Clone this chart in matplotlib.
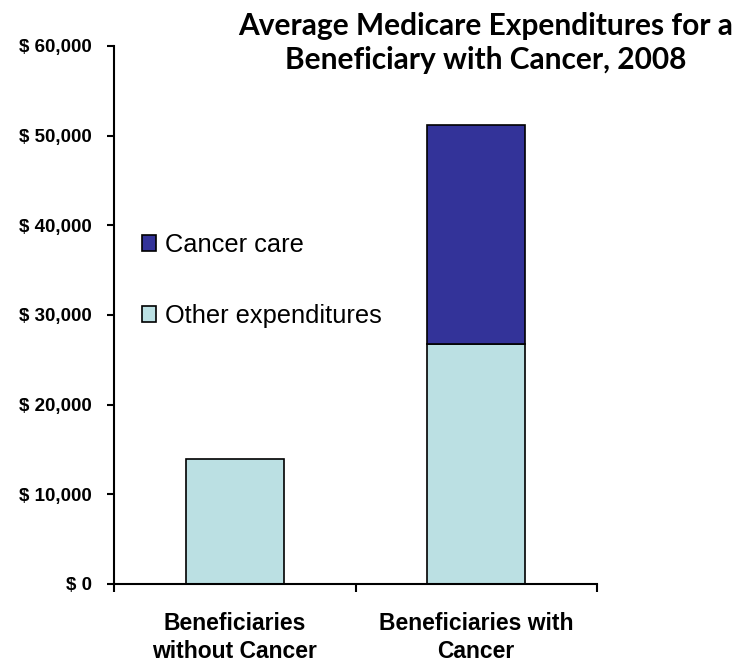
import matplotlib
matplotlib.use("Agg")
import matplotlib.pyplot as plt
from matplotlib.patches import Patch
from matplotlib.ticker import FixedLocator

categories = ["Beneficiaries\nwithout Cancer", "Beneficiaries with\nCancer"]
other_expenditures = [13900, 26800]
cancer_care = [0, 24400]
yticks = [0, 10000, 20000, 30000, 40000, 50000, 60000]
title = "Average Medicare Expenditures for a\nBeneficiary with Cancer, 2008"

col_other = "#BBE0E3"
col_cancer = "#333399"

fig = plt.figure(figsize=(7.45, 6.63), dpi=100)
ax = fig.add_axes([114/745, 1-584/663, (597-114)/745, (584-46)/663])

x = list(range(len(categories)))
bw = 0.405
ax.bar(x, other_expenditures, width=bw, color=col_other, edgecolor="black", linewidth=1.2, zorder=2)
ax.bar(x[1:], cancer_care[1:], width=bw, bottom=other_expenditures[1:], color=col_cancer,
       edgecolor="black", linewidth=1.2, zorder=2)

ax.set_xlim(-0.5, 1.5)
ax.set_ylim(0, 60000)
for s in ["top", "right"]:
    ax.spines[s].set_visible(False)
for s in ["left", "bottom"]:
    ax.spines[s].set_linewidth(1.5)

ax.yaxis.set_major_locator(FixedLocator(yticks))
ax.tick_params(axis="y", length=5, width=1.5, pad=11)
ax.set_yticklabels(["\\$ " + f"{v:,}" for v in yticks], fontweight="bold",
                   family=["Liberation Sans", "DejaVu Sans"], fontsize=13.5)

# category labels at centres, tick marks at boundaries
ax.set_xticks([-0.5, 0.5, 1.5])
ax.set_xticklabels([])
ax.tick_params(axis="x", length=6, width=1.5)
ax.set_xticks(x, minor=True)
ax.set_xticklabels(categories, minor=True, fontweight="bold",
                   family=["Liberation Sans", "DejaVu Sans"], fontsize=16.5, linespacing=1.3)
ax.tick_params(axis="x", which="minor", length=0, pad=20)

fig.text(486/745, 1-12/663, title, ha="center", va="top", fontsize=21.5,
         fontweight="bold", family=["Lato", "DejaVu Sans"], linespacing=1.25)

handles = [Patch(facecolor=col_cancer, edgecolor="black", linewidth=1.2, label="Cancer care"),
           Patch(facecolor=col_other, edgecolor="black", linewidth=1.2, label="Other expenditures")]
leg = fig.legend(handles=handles, loc="upper left", bbox_to_anchor=(142/745, 1-233/663),
                 frameon=False, borderpad=0, borderaxespad=0, handlelength=0.56,
                 handleheight=0.56, handletextpad=0.36, labelspacing=1.85,
                 prop={"family": ["Liberation Sans", "DejaVu Sans"], "size": 18.3})

fig.savefig("out.png", dpi=100)
